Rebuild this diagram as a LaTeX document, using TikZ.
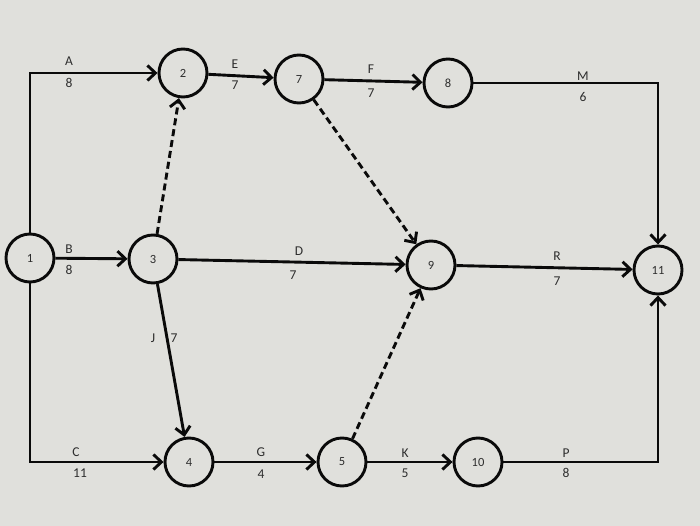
\documentclass[tikz,border=0pt]{standalone}
\usepackage{fontspec}
\setmainfont{Carlito}
\usepackage{xcolor}
\usetikzlibrary{arrows.meta,positioning}
\definecolor{screen}{RGB}{224,224,220}
\definecolor{ink}{RGB}{10,10,10}
\definecolor{txt}{RGB}{45,45,45}

\begin{document}
\begin{tikzpicture}[
  x=1pt, y=-1pt,
  ev/.style={draw=ink, circle, line width=2.9pt, minimum size=48pt, inner sep=0pt, font=\fontsize{12.5}{14}\selectfont, text=txt},
  arr/.style={-{Straight Barb[length=8pt,width=15pt,line width=2.9pt]}, line width=2.9pt, draw=ink},
  dummy/.style={arr, dash pattern=on 7pt off 4pt},
  lbl/.style={font=\fontsize{13.5}{15}\selectfont, text=txt, inner sep=1pt}
]
\fill[screen] (0,0) rectangle (700,526);
\useasboundingbox (0,0) rectangle (700,526);
% events
\node[ev] (n1) at (30,258) {1};
\node[ev] (n2) at (183,73) {2};
\node[ev] (n7) at (299,79) {7};
\node[ev] (n8) at (448,83) {8};
\node[ev] (n3) at (153,259) {3};
\node[ev] (n9) at (431,265) {9};
\node[ev] (n11) at (658,270) {11};
\node[ev] (n4) at (189,462) {4};
\node[ev] (n5) at (342,462) {5};
\node[ev] (n10) at (478,462) {10};
% activities
\draw[arr] (n1.north) |- (n2);
\draw[arr] (n1) -- (n3);
\draw[arr] (n1.south) |- (n4);
\draw[arr] (n2) -- (n7);
\draw[arr] (n7) -- (n8);
\draw[arr] (n8) -| (n11);
\draw[arr] (n3) -- (n9);
\draw[arr] (n3) -- (n4);
\draw[arr] (n9) -- (n11);
\draw[arr] (n4) -- (n5);
\draw[arr] (n5) -- (n10);
\draw[arr] (n10) -| (n11);
% dummies
\draw[dummy] (n3) -- (n2);
\draw[dummy] (n7) -- (n9);
\draw[dummy] (n5) -- (n9);
% labels
\node[lbl] (lA) at (69,61) {A};
\node[lbl] (dA) at (69,83) {8};
\node[lbl] (lE) at (235,64) {E};
\node[lbl] (dE) at (235,85) {7};
\node[lbl] (lF) at (371,69) {F};
\node[lbl] (dF) at (371,93) {7};
\node[lbl] (lM) at (583,76) {M};
\node[lbl] (dM) at (583,97) {6};
\node[lbl] (lB) at (69,249) {B};
\node[lbl] (dB) at (69,270) {8};
\node[lbl] (lD) at (299,251) {D};
\node[lbl] (dD) at (293,275) {7};
\node[lbl] (lR) at (557,256) {R};
\node[lbl] (dR) at (557,281) {7};
\node[lbl] (lJ) at (153,338) {J};
\node[lbl] (dJ) at (174,338) {7};
\node[lbl] (lC) at (76,452) {C};
\node[lbl] (dC) at (80,473) {11};
\node[lbl] (lG) at (261,452) {G};
\node[lbl] (dG) at (261,474) {4};
\node[lbl] (lK) at (405,453) {K};
\node[lbl] (dK) at (405,473) {5};
\node[lbl] (lP) at (566,453) {P};
\node[lbl] (dP) at (566,473) {8};
\end{tikzpicture}
\end{document}
